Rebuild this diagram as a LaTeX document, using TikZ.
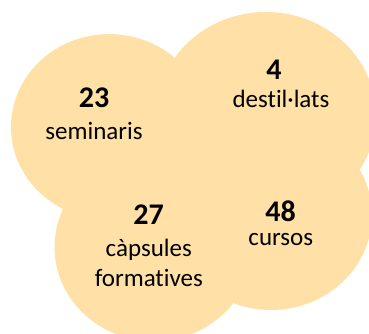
\documentclass[tikz,border=0pt]{standalone}
\usepackage{fontspec}
\setmainfont{Carlito}[Ligatures=NoCommon]
\definecolor{peach}{HTML}{FFE1A8}
\begin{document}
\begin{tikzpicture}[x=1pt,y=-1pt,
  blob/.style={fill=peach,draw=none},
  num/.style={font=\fontsize{30}{36}\selectfont\bfseries, anchor=base, inner sep=0pt},
  lbl/.style={font=\fontsize{25}{30}\selectfont, anchor=base, inner sep=0pt}]
\useasboundingbox (0,0) rectangle (369,334);
\begin{scope}
\clip (0,0) rectangle (369,334);
\fill[blob] (109.2,127) ellipse [x radius=98.2, y radius=92.9];
\fill[blob] (266,115.5) ellipse [x radius=110, y radius=103.5];
\fill[blob] (153.7,247.1) ellipse [x radius=99.2, y radius=94];
\fill[blob] (271,215) ellipse [x radius=101, y radius=95];
\end{scope}
\node[num] (n23) at (94,107.3) {23};
\node[lbl] (l23) at (94,139.3) {seminaris};
\node[num] (n4) at (274,80) {4};
\node[lbl] (l4) at (281,107.3) {destil·lats};
\node[num] (n27) at (148.7,224) {27};
\node[lbl] (l27a) at (148.8,256) {càpsules};
\node[lbl] (l27b) at (148.8,286.7) {formatives};
\node[num] (n48) at (280.5,221.7) {48};
\node[lbl] (l48) at (280.8,245) {cursos};
\end{tikzpicture}
\end{document}
